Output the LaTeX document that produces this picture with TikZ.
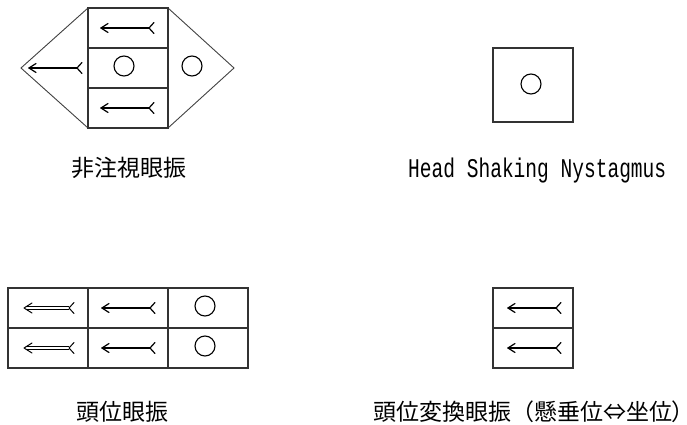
\documentclass[tikz,border=0pt]{standalone}
\usepackage{fontspec}
\usepackage{graphicx}
\newfontfamily\cjkfont{Noto Sans CJK JP}
\newfontfamily\cjkpalt[RawFeature=+palt]{Noto Sans CJK JP}
\newfontfamily\latmono{Liberation Mono}
\begin{document}
\begin{tikzpicture}[x=1pt,y=-1pt,
  boxline/.style={draw=black!80,line width=1.3pt},
  thinline/.style={draw=black!75,line width=0.9pt},
  arr/.style={draw=black,line width=1.2pt,line cap=round,line join=round},
  eye/.style={draw=black,line width=1.1pt},
  jlabel/.style={font=\cjkfont\fontsize{23}{23}\selectfont,inner sep=0pt,anchor=base west},
  elabel/.style={font=\latmono\fontsize{27}{27}\selectfont,inner sep=0pt,anchor=base west},
  nysarr/.pic={
    \draw[arr] (0,0) -- (48,0);
    \draw[arr] (7,-4.5) -- (0,0) -- (7,4.5);
    \draw[arr] (53,-5.5) -- (48,0) -- (53,5.5);
  },
  dblarr/.pic={
    \draw[line width=0.8pt,draw=black,double=white,double distance=2.4pt] (3,0) -- (45,0);
    \draw[arr,line width=1pt] (8,-5) -- (0,0) -- (8,5);
    \draw[arr,line width=1pt] (50,-5.5) -- (45,0) -- (50,5.5);
  }]
\useasboundingbox (0,0) rectangle (687,425);

% ---------- top left: non-fixation nystagmus ----------
\draw[thinline] (88,8) -- (21,68) -- (88,128);
\draw[thinline] (168,8) -- (234,68) -- (168,128);
\draw[boxline] (88,8) rectangle (168,128);
\draw[boxline] (88,48) -- (168,48);
\draw[boxline] (88,88) -- (168,88);
\pic at (101,28) {nysarr};
\pic at (101,108) {nysarr};
\pic at (29,68) {nysarr};
\draw[eye] (124,66) circle (10);
\draw[eye] (192,66) circle (10);
\node[jlabel] (l1) at (71,176.5) {非注視眼振};

% ---------- top right: head shaking ----------
\draw[boxline] (493,48) rectangle (573,122);
\draw[eye] (531,84) circle (10);
\node[elabel] (l2) at (408,177) {\resizebox{258pt}{\height}{Head Shaking Nystagmus}};

% ---------- bottom left: positional nystagmus ----------
\draw[boxline] (8,288) rectangle (248,368);
\draw[boxline] (88,288) -- (88,368);
\draw[boxline] (168,288) -- (168,368);
\draw[boxline] (8,328) -- (248,328);
\pic at (24,308) {dblarr};
\pic at (24,348) {dblarr};
\pic at (102,308) {nysarr};
\pic at (102,348) {nysarr};
\draw[eye] (205,306) circle (10);
\draw[eye] (205,346) circle (10);
\node[jlabel] (l3) at (76,420) {頭位眼振};

% ---------- bottom right: positioning nystagmus ----------
\node[jlabel] (l4) at (373,420) {頭位変換眼振（懸垂位⇔坐位{\cjkpalt ）}};
\draw[boxline] (493,288) rectangle (573,368);
\draw[boxline] (493,328) -- (573,328);
\pic at (508,308) {nysarr};
\pic at (508,348) {nysarr};
\end{tikzpicture}
\end{document}
